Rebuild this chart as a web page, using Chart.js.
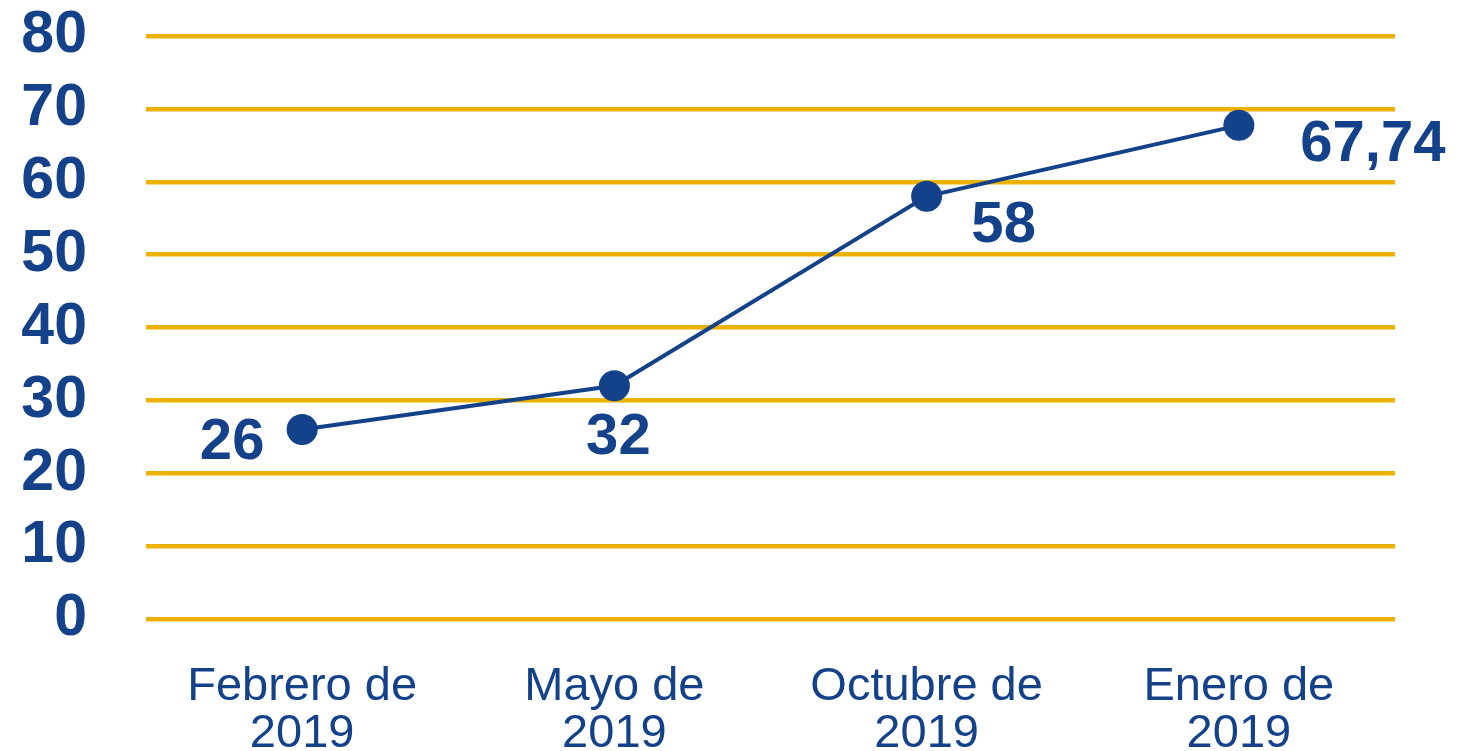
<!DOCTYPE html>
<html>
<head>
<meta charset="utf-8">
<script src="https://cdn.jsdelivr.net/npm/chart.js@4"></script>
<style>
  html, body { margin: 0; padding: 0; background: #fff; }
  #wrap { width: 1471px; height: 751px; }
</style>
</head>
<body>
<div id="wrap"><canvas id="grafico"></canvas></div>
<script>
var categorias = [["Febrero de", "2019"], ["Mayo de", "2019"], ["Octubre de", "2019"], ["Enero de", "2019"]];
var valores = [26, 32, 58, 67.74];
var ticksY = [0, 10, 20, 30, 40, 50, 60, 70, 80];

var azul = "#13418a";
var dorado = "#edb100";

// desplazamiento de cada etiqueta respecto a su punto
var desplazamientos = [[-70, 13], [4, 52], [77, 30], [134, 20]];

var etiquetasDatos = {
    id: 'etiquetasDatos',
    afterDatasetsDraw: function (chart) {
        var ctx = chart.ctx;
        var meta = chart.getDatasetMeta(0);
        ctx.save();
        ctx.fillStyle = azul;
        ctx.font = "bold 58px 'Liberation Sans', Arial, sans-serif";
        ctx.textAlign = 'center';
        ctx.textBaseline = 'middle';
        meta.data.forEach(function (p, i) {
            var txt = String(valores[i]).replace('.', ',');
            ctx.fillText(txt, p.x + desplazamientos[i][0], p.y + desplazamientos[i][1]);
        });
        ctx.restore();
    }
};

var ctx = document.getElementById('grafico').getContext('2d');
var grafico = new Chart(ctx, {
    type: 'line',
    data: {
        labels: categorias,
        datasets: [{
            data: valores,
            borderColor: azul,
            backgroundColor: azul,
            borderWidth: 4,
            pointRadius: 15.5,
            pointHoverRadius: 15.5,
            pointBackgroundColor: azul,
            pointBorderWidth: 0,
            tension: 0
        }]
    },
    options: {
        responsive: true,
        maintainAspectRatio: false,
        animation: false,
        layout: { padding: { top: 36, right: 76, bottom: 0, left: 0 } },
        plugins: {
            legend: { display: false },
            tooltip: { enabled: false }
        },
        scales: {
            x: {
                offset: true,
                grid: { display: false, drawTicks: false },
                border: { display: false },
                ticks: {
                    color: azul,
                    padding: 45,
                    maxRotation: 0,
                    font: { family: "'Liberation Sans', Arial, sans-serif", size: 47, lineHeight: 1.0 }
                },
                afterFit: function (s) { s.height = 132; s.paddingLeft = 0; s.paddingRight = 0; }
            },
            y: {
                min: 0,
                max: 80,
                afterBuildTicks: function (s) { s.ticks = ticksY.map(function (v) { return { value: v }; }); },
                grid: { color: dorado, lineWidth: 4.5, drawTicks: false },
                border: { display: false },
                ticks: {
                    color: azul,
                    padding: 59,
                    autoSkip: false,
                    font: { family: "'Liberation Sans', Arial, sans-serif", size: 59, weight: 'bold' }
                },
                afterFit: function (s) { s.width = 146; s.paddingTop = 0; s.paddingBottom = 0; }
            }
        }
    },
    plugins: [etiquetasDatos]
});
</script>
</body>
</html>
